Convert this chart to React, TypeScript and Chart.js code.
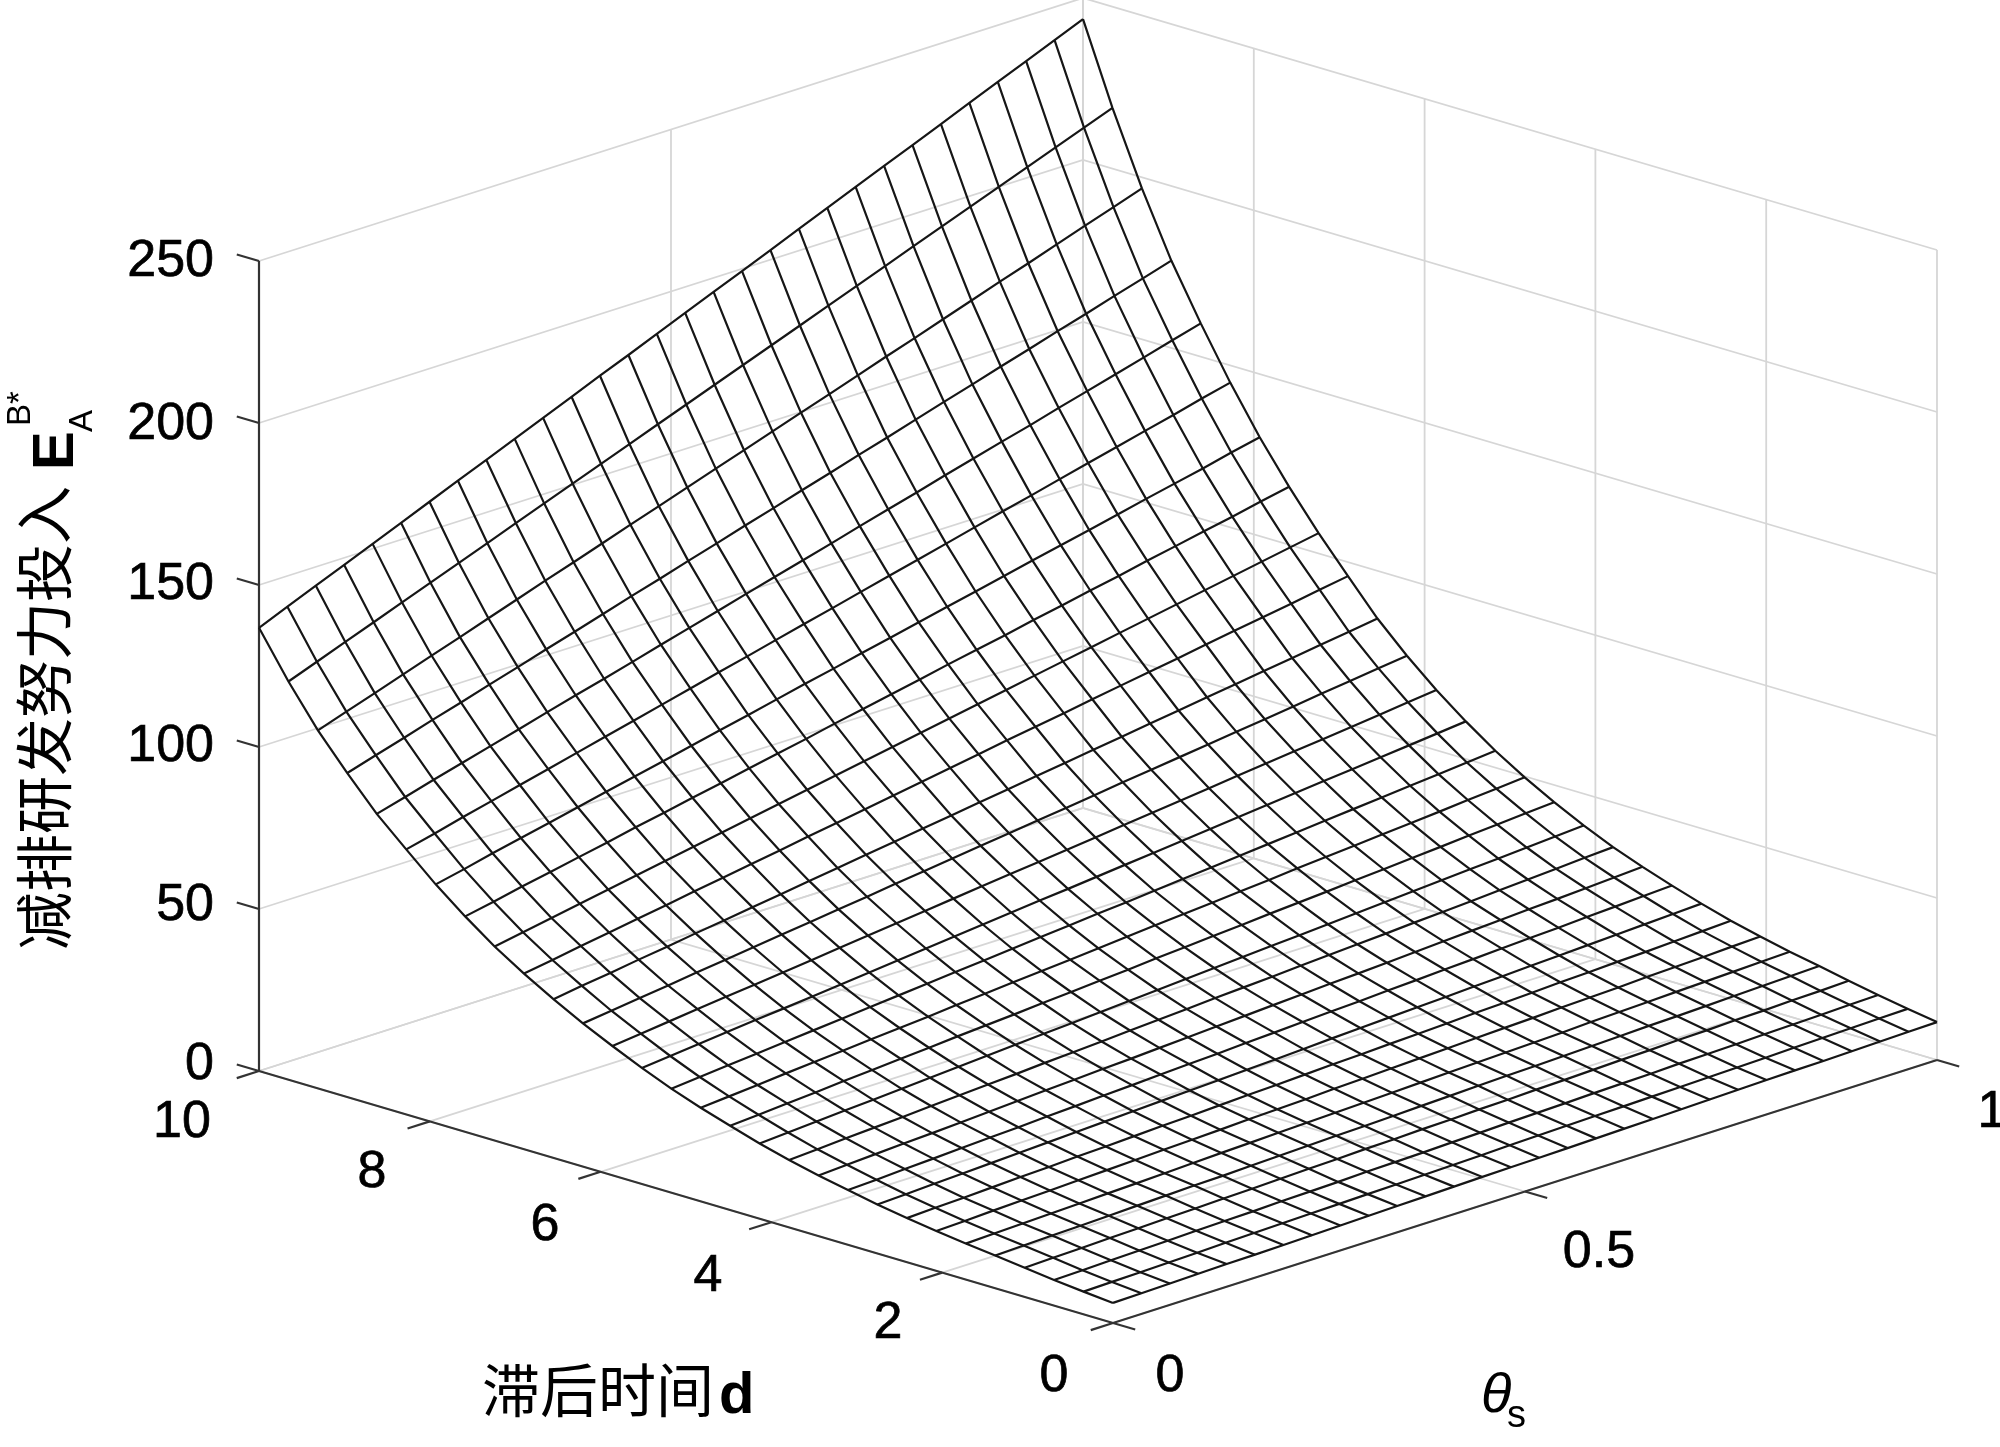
import React, { useEffect, useRef } from "react";
import { Chart, registerables } from "chart.js";

Chart.register(...registerables);

const thetaValues = [0, 0.0345, 0.069, 0.1034, 0.1379, 0.1724, 0.2069, 0.2414, 0.2759, 0.3103, 0.3448, 0.3793, 0.4138, 0.4483, 0.4828, 0.5172, 0.5517, 0.5862, 0.6207, 0.6552, 0.6897, 0.7241, 0.7586, 0.7931, 0.8276, 0.8621, 0.8966, 0.931, 0.9655, 1];
const lagValues = [0, 0.345, 0.69, 1.034, 1.379, 1.724, 2.069, 2.414, 2.759, 3.103, 3.448, 3.793, 4.138, 4.483, 4.828, 5.172, 5.517, 5.862, 6.207, 6.552, 6.897, 7.241, 7.586, 7.931, 8.276, 8.621, 8.966, 9.31, 9.655, 10];

// Effort: one row per lag value, one column per theta value.
const effortRows = [
  [6.2, 6.4, 6.6, 6.8, 7.0, 7.1, 7.3, 7.5, 7.7, 7.9, 8.1, 8.3, 8.5, 8.7, 8.9, 9.0, 9.2, 9.4, 9.6, 9.8, 10.0, 10.2, 10.4, 10.6, 10.8, 10.9, 11.1, 11.3, 11.5, 11.7],
  [7.0, 7.2, 7.4, 7.6, 7.8, 8.1, 8.3, 8.5, 8.7, 8.9, 9.1, 9.3, 9.5, 9.7, 9.9, 10.2, 10.4, 10.6, 10.8, 11.0, 11.2, 11.4, 11.6, 11.8, 12.0, 12.3, 12.5, 12.7, 12.9, 13.1],
  [7.9, 8.1, 8.4, 8.6, 8.8, 9.1, 9.3, 9.5, 9.8, 10.0, 10.2, 10.5, 10.7, 10.9, 11.2, 11.4, 11.7, 11.9, 12.1, 12.4, 12.6, 12.8, 13.1, 13.3, 13.5, 13.8, 14.0, 14.2, 14.5, 14.7],
  [9.0, 9.3, 9.5, 9.8, 10.0, 10.3, 10.5, 10.8, 11.0, 11.3, 11.6, 11.8, 12.1, 12.3, 12.6, 12.8, 13.1, 13.3, 13.6, 13.8, 14.1, 14.4, 14.6, 14.9, 15.1, 15.4, 15.6, 15.9, 16.1, 16.4],
  [10.1, 10.4, 10.7, 10.9, 11.2, 11.5, 11.8, 12.1, 12.3, 12.6, 12.9, 13.2, 13.5, 13.7, 14.0, 14.3, 14.6, 14.9, 15.2, 15.4, 15.7, 16.0, 16.3, 16.6, 16.8, 17.1, 17.4, 17.7, 18.0, 18.3],
  [11.1, 11.4, 11.7, 12.0, 12.3, 12.6, 12.9, 13.2, 13.6, 13.9, 14.2, 14.5, 14.8, 15.1, 15.4, 15.7, 16.0, 16.3, 16.6, 16.9, 17.2, 17.5, 17.9, 18.2, 18.5, 18.8, 19.1, 19.4, 19.7, 20.0],
  [12.3, 12.6, 13.0, 13.3, 13.6, 14.0, 14.3, 14.6, 15.0, 15.3, 15.6, 16.0, 16.3, 16.6, 17.0, 17.3, 17.7, 18.0, 18.3, 18.7, 19.0, 19.3, 19.7, 20.0, 20.3, 20.7, 21.0, 21.3, 21.7, 22.0],
  [13.6, 14.0, 14.3, 14.7, 15.1, 15.4, 15.8, 16.1, 16.5, 16.9, 17.2, 17.6, 18.0, 18.3, 18.7, 19.1, 19.4, 19.8, 20.1, 20.5, 20.9, 21.2, 21.6, 22.0, 22.3, 22.7, 23.0, 23.4, 23.8, 24.2],
  [15.1, 15.5, 15.9, 16.3, 16.7, 17.1, 17.5, 17.9, 18.3, 18.7, 19.1, 19.5, 19.9, 20.3, 20.7, 21.1, 21.6, 22.0, 22.4, 22.8, 23.2, 23.6, 24.0, 24.4, 24.8, 25.2, 25.6, 26.0, 26.4, 26.8],
  [16.9, 17.3, 17.8, 18.2, 18.7, 19.1, 19.5, 20.0, 20.4, 20.9, 21.3, 21.8, 22.2, 22.6, 23.1, 23.5, 24.0, 24.4, 24.8, 25.3, 25.7, 26.2, 26.6, 27.1, 27.5, 27.9, 28.4, 28.8, 29.3, 29.7],
  [18.7, 19.2, 19.7, 20.2, 20.6, 21.1, 21.6, 22.1, 22.6, 23.1, 23.6, 24.0, 24.5, 25.0, 25.5, 26.0, 26.5, 27.0, 27.5, 27.9, 28.4, 28.9, 29.4, 29.9, 30.4, 30.9, 31.3, 31.8, 32.3, 32.8],
  [20.8, 21.3, 21.9, 22.4, 22.9, 23.5, 24.0, 24.5, 25.0, 25.6, 26.1, 26.6, 27.2, 27.7, 28.2, 28.8, 29.3, 29.8, 30.4, 30.9, 31.4, 31.9, 32.5, 33.0, 33.5, 34.1, 34.6, 35.1, 35.7, 36.2],
  [23.2, 23.8, 24.4, 25.0, 25.5, 26.1, 26.7, 27.3, 27.9, 28.5, 29.1, 29.6, 30.2, 30.8, 31.4, 32.0, 32.6, 33.2, 33.8, 34.3, 34.9, 35.5, 36.1, 36.7, 37.3, 37.9, 38.4, 39.0, 39.6, 40.2],
  [26.0, 26.6, 27.3, 27.9, 28.6, 29.2, 29.9, 30.5, 31.2, 31.8, 32.4, 33.1, 33.7, 34.4, 35.0, 35.7, 36.3, 37.0, 37.6, 38.3, 38.9, 39.5, 40.2, 40.8, 41.5, 42.1, 42.8, 43.4, 44.1, 44.7],
  [28.9, 29.6, 30.3, 31.1, 31.8, 32.5, 33.2, 33.9, 34.6, 35.4, 36.1, 36.8, 37.5, 38.2, 38.9, 39.7, 40.4, 41.1, 41.8, 42.5, 43.2, 44.0, 44.7, 45.4, 46.1, 46.8, 47.5, 48.3, 49.0, 49.7],
  [32.1, 32.9, 33.7, 34.5, 35.3, 36.1, 36.9, 37.7, 38.5, 39.3, 40.1, 40.9, 41.7, 42.5, 43.3, 44.1, 44.8, 45.6, 46.4, 47.2, 48.0, 48.8, 49.6, 50.4, 51.2, 52.0, 52.8, 53.6, 54.4, 55.2],
  [35.8, 36.7, 37.6, 38.5, 39.4, 40.2, 41.1, 42.0, 42.9, 43.8, 44.7, 45.6, 46.5, 47.4, 48.3, 49.1, 50.0, 50.9, 51.8, 52.7, 53.6, 54.5, 55.4, 56.3, 57.2, 58.0, 58.9, 59.8, 60.7, 61.6],
  [39.9, 40.9, 41.9, 42.9, 43.9, 44.8, 45.8, 46.8, 47.8, 48.8, 49.8, 50.8, 51.8, 52.8, 53.8, 54.7, 55.7, 56.7, 57.7, 58.7, 59.7, 60.7, 61.7, 62.7, 63.7, 64.6, 65.6, 66.6, 67.6, 68.6],
  [44.2, 45.3, 46.4, 47.5, 48.7, 49.8, 50.9, 52.0, 53.1, 54.2, 55.3, 56.5, 57.6, 58.7, 59.8, 60.9, 62.0, 63.1, 64.2, 65.4, 66.5, 67.6, 68.7, 69.8, 70.9, 72.0, 73.2, 74.3, 75.4, 76.5],
  [49.0, 50.3, 51.5, 52.8, 54.0, 55.3, 56.5, 57.8, 59.0, 60.3, 61.5, 62.8, 64.0, 65.3, 66.5, 67.8, 69.0, 70.3, 71.5, 72.8, 74.0, 75.3, 76.5, 77.8, 79.0, 80.3, 81.5, 82.8, 84.0, 85.3],
  [54.2, 55.6, 57.1, 58.5, 59.9, 61.3, 62.8, 64.2, 65.6, 67.0, 68.5, 69.9, 71.3, 72.8, 74.2, 75.7, 77.1, 78.6, 80.0, 81.4, 82.9, 84.3, 85.7, 87.1, 88.6, 90.0, 91.4, 92.8, 94.3, 95.7],
  [59.9, 61.5, 63.1, 64.7, 66.3, 67.9, 69.5, 71.1, 72.7, 74.3, 75.9, 77.5, 79.1, 80.7, 82.3, 83.9, 85.5, 87.1, 88.7, 90.3, 91.9, 93.5, 95.1, 96.7, 98.3, 99.9, 101.5, 103.1, 104.7, 106.3],
  [66.5, 68.2, 70.1, 71.8, 73.6, 75.3, 77.2, 78.9, 80.7, 82.4, 84.2, 86.0, 87.7, 89.6, 91.3, 93.1, 94.8, 96.7, 98.4, 100.1, 102.0, 103.7, 105.5, 107.2, 109.1, 110.8, 112.6, 114.3, 116.2, 117.9],
  [73.7, 75.6, 77.7, 79.6, 81.5, 83.5, 85.5, 87.4, 89.3, 91.3, 93.3, 95.2, 97.2, 99.2, 101.1, 103.1, 105.0, 107.0, 109.0, 110.9, 112.9, 114.9, 116.8, 118.7, 120.7, 122.7, 124.6, 126.5, 128.6, 130.5],
  [81.8, 83.9, 86.2, 88.3, 90.5, 92.6, 94.8, 97.0, 99.1, 101.3, 103.5, 105.7, 107.8, 110.0, 112.2, 114.3, 116.5, 118.7, 120.8, 123.0, 125.2, 127.4, 129.5, 131.7, 133.9, 136.0, 138.2, 140.3, 142.6, 144.7],
  [90.1, 92.5, 95.0, 97.4, 99.8, 102.2, 104.7, 107.1, 109.4, 111.8, 114.3, 116.7, 119.1, 121.6, 124.0, 126.4, 128.8, 131.3, 133.7, 136.1, 138.6, 141.0, 143.4, 145.7, 148.2, 150.6, 153.0, 155.4, 157.9, 160.3],
  [100.0, 102.7, 105.3, 108.0, 110.6, 113.3, 115.9, 118.6, 121.2, 123.9, 126.6, 129.2, 131.9, 134.5, 137.2, 139.8, 142.5, 145.1, 147.8, 150.4, 153.1, 155.8, 158.4, 161.1, 163.7, 166.4, 169.0, 171.7, 174.3, 177.0],
  [110.5, 113.5, 116.4, 119.4, 122.4, 125.3, 128.3, 131.3, 134.3, 137.2, 140.2, 143.2, 146.1, 149.1, 152.1, 155.0, 158.0, 161.0, 163.9, 166.9, 169.9, 172.8, 175.8, 178.8, 181.8, 184.7, 187.7, 190.7, 193.6, 196.6],
  [122.9, 126.2, 129.5, 132.8, 136.1, 139.4, 142.7, 146.0, 149.4, 152.7, 156.0, 159.3, 162.6, 165.9, 169.2, 172.5, 175.8, 179.1, 182.4, 185.7, 189.0, 192.3, 195.7, 199.0, 202.3, 205.6, 208.9, 212.2, 215.5, 218.8],
  [136.8, 140.5, 144.2, 147.8, 151.5, 155.2, 158.9, 162.6, 166.2, 169.9, 173.6, 177.3, 181.0, 184.6, 188.3, 192.0, 195.7, 199.3, 203.0, 206.7, 210.4, 214.1, 217.8, 221.4, 225.1, 228.8, 232.5, 236.1, 239.8, 243.5],
];

const effortTicks = [0, 50, 100, 150, 200, 250];
const lagTicks = [0, 2, 4, 6, 8, 10];
const thetaTicks = [0, 0.5, 1];
const thetaTickLabels = ["0", "0.5", "1"];

// Axonometric view of the box, in canvas pixels.
const view = {
  originX: 1113, originY: 1323,
  thetaDx: 824, thetaDy: -263,
  lagDx: -85.4, lagDy: -25.2,
  effortDy: -3.24,
};
const project = (theta: number, lag: number, effort: number) => ({
  x: view.originX + view.thetaDx * theta + view.lagDx * lag,
  y: view.originY + view.thetaDy * theta + view.lagDy * lag + view.effortDy * effort,
});

const SANS = '"Liberation Sans", Arial, sans-serif';
const CJK = '"Noto Sans CJK SC", sans-serif';
const TICK_FONT = `52px ${SANS}`;
const INK = "#161616";
const AXIS = "#333333";
const GRID = "#d6d6d6";

const effortLabelPos = [1065, 906, 747, 585, 425, 262];
const lagLabelPos = [[1054, 1377], [888, 1324], [708, 1277], [545, 1226], [372, 1173], [182, 1123]];
const thetaLabelPos = [[1170, 1377], [1599, 1253], [1992, 1113]];

type P = { x: number; y: number };
const line = (data: P[], color: string, width: number) => ({
  type: "scatter" as const,
  data,
  showLine: true,
  borderColor: color,
  borderWidth: width,
  pointRadius: 0,
  fill: false,
  tension: 0,
});

function buildDatasets() {
  const sets: any[] = [];
  // Mesh (first datasets are painted last, so on top)
  effortRows.forEach((row, j) => {
    sets.push(line(row.map((e, i) => project(thetaValues[i], lagValues[j], e)), INK, 2.2));
  });
  thetaValues.forEach((t, i) => {
    sets.push(line(lagValues.map((l, j) => project(t, l, effortRows[j][i])), INK, 2.2));
  });
  // Axes and ticks
  const zTop = effortTicks[effortTicks.length - 1];
  sets.push(line([project(0, 10, 0), project(0, 10, zTop)], AXIS, 2.2));
  sets.push(line([project(0, 10, 0), project(0, 0, 0)], AXIS, 2.2));
  sets.push(line([project(0, 0, 0), project(1, 0, 0)], AXIS, 2.2));
  effortTicks.forEach((z) => sets.push(line([project(0, 10, z), project(0, 10.26, z)], AXIS, 2.2)));
  lagTicks.forEach((l) => sets.push(line([project(0, l, 0), project(-0.027, l, 0)], AXIS, 2.2)));
  thetaTicks.forEach((t) => sets.push(line([project(t, 0, 0), project(t, -0.26, 0)], AXIS, 2.2)));
  // Grid: walls and floor
  effortTicks.forEach((z) => {
    sets.push(line([project(0, 10, z), project(1, 10, z), project(1, 0, z)], GRID, 1.8));
  });
  thetaTicks.forEach((t) => {
    sets.push(line([project(t, 0, 0), project(t, 10, 0), project(t, 10, zTop)], GRID, 1.8));
  });
  lagTicks.forEach((l) => {
    sets.push(line([project(0, l, 0), project(1, l, 0), project(1, l, zTop)], GRID, 1.8));
  });
  return sets;
}

const labelsPlugin = {
  id: "surfaceLabels",
  afterDraw(chart: any) {
    const ctx = chart.ctx as CanvasRenderingContext2D;
    const tickText = (s: string, x: number, y: number) => {
      ctx.fillText(s, x, y);
      ctx.strokeText(s, x, y);
    };
    ctx.save();
    ctx.fillStyle = "#000";
    ctx.strokeStyle = "#000";
    ctx.lineWidth = 0.7;
    ctx.textBaseline = "middle";
    ctx.font = TICK_FONT;
    ctx.textAlign = "right";
    effortTicks.forEach((z, i) => tickText(String(z), 214, effortLabelPos[i]));
    ctx.textAlign = "center";
    lagTicks.forEach((l, i) => tickText(String(l), lagLabelPos[i][0], lagLabelPos[i][1]));
    thetaTickLabels.forEach((s, i) => tickText(s, thetaLabelPos[i][0], thetaLabelPos[i][1]));

    // Lag axis title
    ctx.textAlign = "left";
    ctx.textBaseline = "alphabetic";
    ctx.font = `58px ${CJK}`;
    ctx.fillText("滞后时间", 482, 1412);
    ctx.font = `bold 58px ${SANS}`;
    ctx.fillText("d", 719, 1413);

    // Theta axis title
    ctx.font = `italic 56px ${SANS}`;
    ctx.fillText("θ", 1481, 1412);
    ctx.font = `38px ${SANS}`;
    ctx.fillText("s", 1507, 1427);

    // Effort axis title (rotated)
    ctx.save();
    ctx.rotate(-Math.PI / 2);
    ctx.font = `58px ${CJK}`;
    ctx.fillText("减排研发努力投入", -950, 66);
    ctx.font = `bold 58px ${SANS}`;
    ctx.fillText("E", -470, 73);
    ctx.font = `33px ${SANS}`;
    ctx.fillText("A", -432, 92);
    ctx.fillText("B*", -426, 30);
    ctx.restore();
    ctx.restore();
  },
};

export default function App() {
  const ref = useRef<HTMLCanvasElement>(null);
  useEffect(() => {
    const chart = new Chart(ref.current as HTMLCanvasElement, {
      type: "scatter",
      data: { datasets: buildDatasets() },
      options: {
        animation: false,
        responsive: false,
        devicePixelRatio: 1,
        layout: { padding: 0 },
        plugins: { legend: { display: false }, tooltip: { enabled: false }, title: { display: false } },
        scales: {
          x: { type: "linear", min: 0, max: 2000, display: false },
          y: { type: "linear", min: 0, max: 1447, reverse: true, display: false },
        },
      },
      plugins: [labelsPlugin],
    } as any);
    return () => chart.destroy();
  }, []);
  return (
    <canvas
      ref={ref}
      width={2000}
      height={1447}
      style={{ position: "absolute", left: 0, top: 0, width: 2000, height: 1447, display: "block", background: "#fff" }}
    />
  );
}
